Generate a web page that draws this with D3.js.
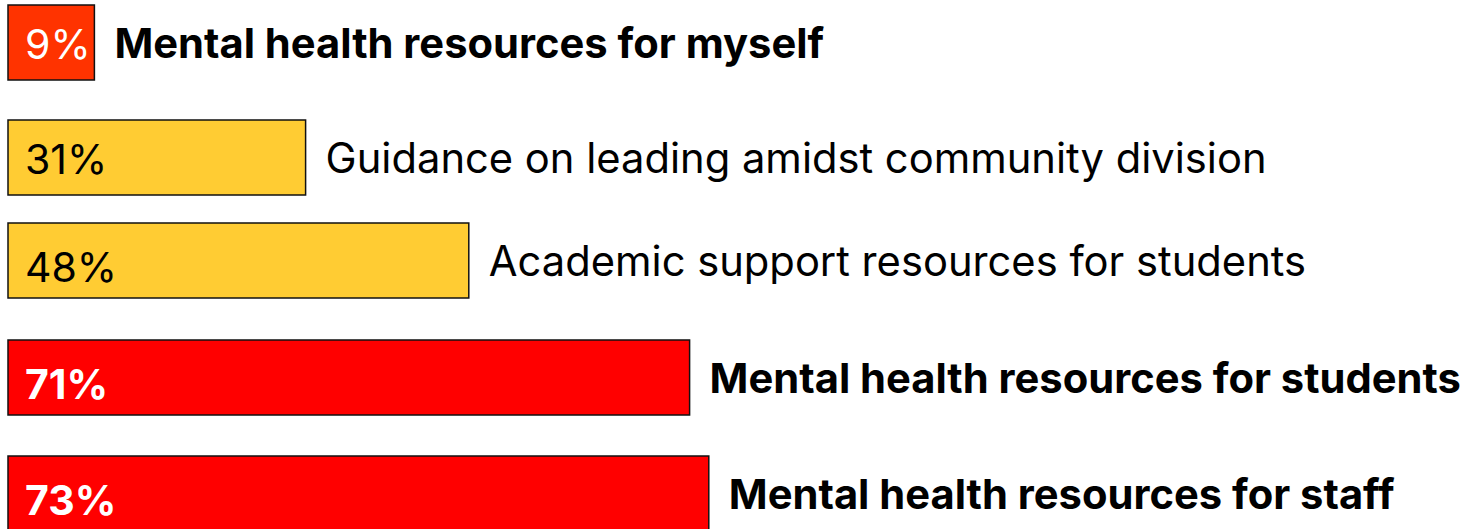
<!DOCTYPE html>
<html>
<head>
<meta charset="utf-8">
<style>
  body { margin: 0; background: #fff; }
  svg { display: block; }
  text { font-family: Inter, "Open Sans", sans-serif; }
</style>
</head>
<body>
<div id="chart"></div>
<script src="https://cdn.jsdelivr.net/npm/d3@7"></script>
<script>
  // data
  var categories = [
    'Mental health resources for myself',
    'Guidance on leading amidst community division',
    'Academic support resources for students',
    'Mental health resources for students',
    'Mental health resources for staff'
  ];
  var values = [9, 31, 48, 71, 73];
  var valueLabels = ['9%', '31%', '48%', '71%', '73%'];
  var groups = ['low', 'mid', 'mid', 'high', 'high'];

  var width = 1468, height = 529;
  var barH = 75;

  var svg = d3.select('#chart')
    .append('svg')
    .attr('width', width)
    .attr('height', height);

  var x = d3.scaleLinear().domain([0, 100]).range([8, 968]);

  // rows are not evenly spaced in the original
  var y = d3.scaleOrdinal().domain(categories).range([5, 120, 223, 340, 456]);

  var fill = d3.scaleOrdinal().domain(['low', 'mid', 'high'])
    .range(['#ff3300', '#ffcc33', '#ff0000']);

  var rows = categories.map(function(c, i) {
    return { cat: c, value: values[i], label: valueLabels[i], group: groups[i] };
  });

  var row = svg.selectAll('g.row')
    .data(rows)
    .enter()
    .append('g')
    .attr('class', 'row')
    .attr('transform', function(d) { return 'translate(0,' + y(d.cat) + ')'; });

  row.append('rect')
    .attr('x', x(0))
    .attr('y', 0)
    .attr('width', function(d) { return x(d.value) - x(0); })
    .attr('height', barH)
    .attr('fill', function(d) { return fill(d.group); })
    .attr('stroke', '#111')
    .attr('stroke-width', 1.5);

  // value inside the bar
  row.append('text')
    .attr('x', x(0) + 17)
    .attr('y', function(d, i) { return i < 2 ? 54 : 59; })
    .attr('font-size', 41)
    .attr('font-weight', function(d) { return d.group == 'high' ? 700 : 400; })
    .attr('fill', function(d) { return d.group == 'mid' ? '#000' : '#fff'; })
    .text(function(d) { return d.label; });

  // category to the right of the bar
  row.append('text')
    .attr('x', function(d) { return x(d.value) + 20; })
    .attr('y', 53)
    .attr('font-size', 41.7)
    .attr('font-weight', function(d) { return d.group == 'mid' ? 400 : 700; })
    .attr('fill', '#000')
    .text(function(d) { return d.cat; });
</script>
</body>
</html>
